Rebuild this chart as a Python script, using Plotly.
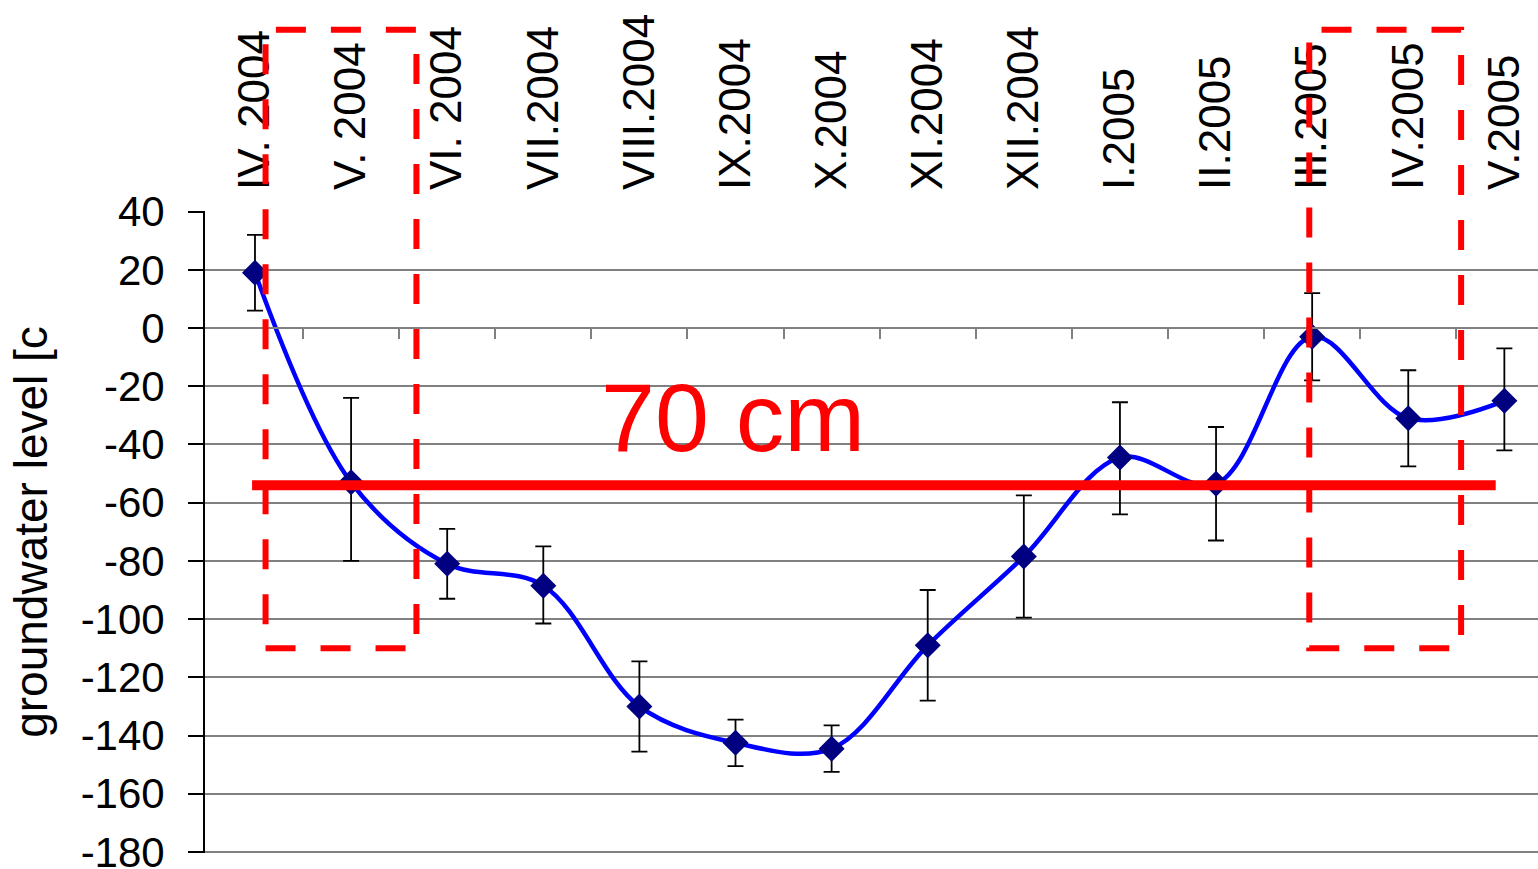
import plotly.graph_objects as go

# ---- data -------------------------------------------------------------
months = ["IV. 2004", "V. 2004", "VI. 2004", "VII.2004", "VIII.2004", "IX.2004",
          "X.2004", "XI.2004", "XII.2004", "I.2005", "II.2005", "III.2005",
          "IV.2005", "V.2005"]
level = [19, -53, -81, -88.5, -130, -142.5, -144.5, -109, -78.5, -44.5, -53.5, -3, -31, -25]
err_plus = [13, 29, 12, 13.5, 15.5, 8, 8, 19, 21, 19, 19.5, 15, 16.5, 18]
err_minus = [13, 27, 12, 13, 15.5, 8, 8, 19, 21, 19.5, 19.5, 15, 16.5, 17]
y_ticks = [40, 20, 0, -20, -40, -60, -80, -100, -120, -140, -160, -180]
y_ticktext = [str(v) for v in y_ticks]

# annotation overlay values (data units)
threshold_level = -54
threshold_span = (-0.03, 12.91)
box_left = (0.11, 1.68)
box_right = (10.97, 12.55)
box_levels = (-110, 102.5)
label_text = "70 cm"
label_pos = (4.97, -50)

x_range = [-0.52, 13.35]
y_range = [-180.35, 40.2]

FONT = "Liberation Sans, Arial, sans-serif"
idx = list(range(len(months)))


def xd(v):
    return (v - x_range[0]) / (x_range[1] - x_range[0])


def yd(v):
    return (v - y_range[0]) / (y_range[1] - y_range[0])


fig = go.Figure()

fig.add_trace(go.Scatter(
    x=idx, y=level, mode="lines+markers",
    line=dict(color="#0000FF", width=4.5, shape="spline", smoothing=1.0),
    marker=dict(symbol="diamond", size=20, color="#000080"),
    error_y=dict(type="data", symmetric=False, array=err_plus, arrayminus=err_minus,
                 color="black", thickness=1.8, width=8),
    showlegend=False, hoverinfo="skip",
))

# helper trace for the category-boundary axis at y = 0
fig.add_trace(go.Scatter(x=[0], y=[None], xaxis="x2", mode="markers",
                         showlegend=False, hoverinfo="skip"))

shapes = [
    dict(type="line", xref="x", yref="y",
         x0=threshold_span[0], x1=threshold_span[1],
         y0=threshold_level, y1=threshold_level,
         line=dict(color="#FF0000", width=10), layer="above"),
]
for bx in (box_left, box_right):
    shapes.append(dict(type="rect", xref="x domain", yref="y domain",
                       x0=xd(bx[0]), x1=xd(bx[1]),
                       y0=yd(box_levels[0]), y1=yd(box_levels[1]),
                       line=dict(color="#FF0000", width=6, dash="30px,25px"),
                       fillcolor="rgba(0,0,0,0)", layer="above"))

fig.update_layout(
    width=1538, height=869,
    margin=dict(l=205, r=0, t=211, b=16, autoexpand=False),
    paper_bgcolor="white", plot_bgcolor="white",
    font=dict(family=FONT, color="black"),
    shapes=shapes,
    annotations=[dict(text=label_text, x=label_pos[0], y=label_pos[1],
                      xref="x", yref="y", xanchor="center", yanchor="bottom",
                      showarrow=False,
                      font=dict(family=FONT, size=97, color="#FF0000"))],
    xaxis=dict(
        range=x_range, side="top", tickmode="array", tickvals=idx, ticktext=months,
        tickangle=-90, tickfont=dict(size=44, family=FONT), showgrid=False,
        zeroline=False, showline=False, ticks="", ticklabelstandoff=20,
        ticklabeloverflow="allow", automargin=False,
    ),
    xaxis2=dict(
        range=x_range, overlaying="x", anchor="free", position=yd(0), side="bottom",
        tickmode="array", tickvals=[i + 0.5 for i in idx[:-1]], showticklabels=False,
        ticks="outside", ticklen=10, tickcolor="#808080", tickwidth=1.8,
        showline=True, linecolor="#808080", linewidth=2, showgrid=False, zeroline=False,
        automargin=False,
    ),
    yaxis=dict(
        range=y_range, tickmode="array", tickvals=y_ticks, ticktext=y_ticktext,
        tickfont=dict(size=42, family=FONT), ticklabeloverflow="allow",
        showgrid=True, gridcolor="#808080", gridwidth=1.8, zeroline=False,
        showline=True, linecolor="black", linewidth=1.8,
        ticks="outside", ticklen=15, tickcolor="black", tickwidth=1.5,
        ticklabelstandoff=15, automargin=False,
        title=dict(text="groundwater level [c", font=dict(size=46, family=FONT), standoff=19),
    ),
)

fig.write_html("out.html", config={"displayModeBar": False},
               post_script="document.body.style.margin='0';")
